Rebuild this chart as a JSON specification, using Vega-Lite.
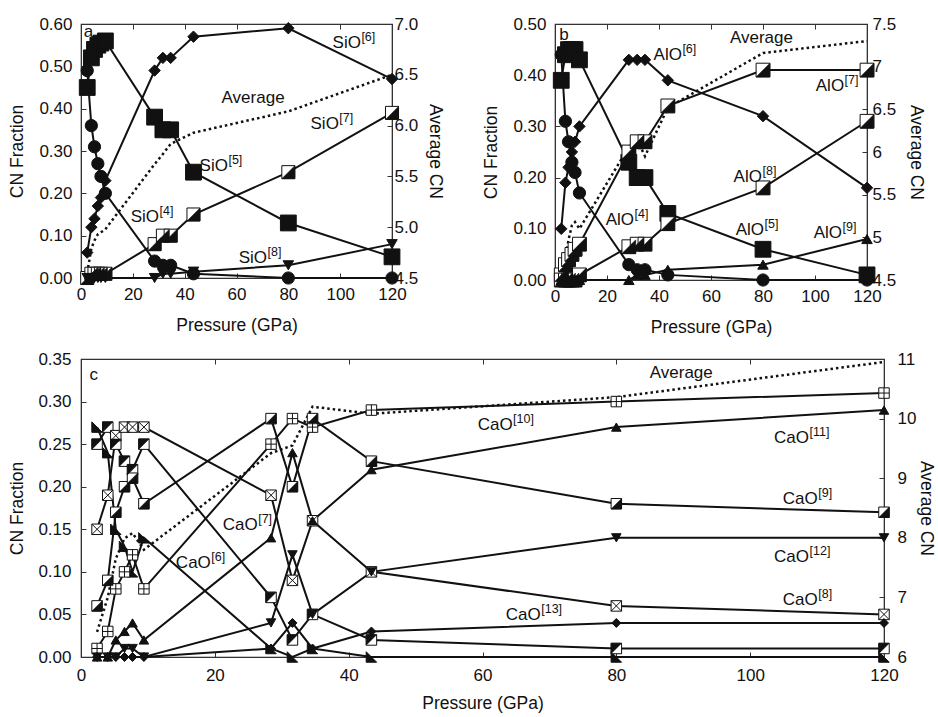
{
  "$schema": "https://vega.github.io/schema/vega-lite/v6.json",
  "padding": {"left": 8, "top": 14, "right": 0, "bottom": 0},
  "background": "white",
  "spacing": 12,
  "config": {
    "font": "Liberation Sans",
    "view": {"stroke": "#222", "strokeWidth": 1.2},
    "axis": {
      "labelFont": "Liberation Sans", "titleFont": "Liberation Sans",
      "labelFontSize": 17, "titleFontSize": 17.5, "titleFontWeight": "normal",
      "labelColor": "#111", "titleColor": "#111", "domainColor": "#333", "tickColor": "#333",
      "grid": false, "tickSize": -5, "labelFlush": false, "labelOverlap": false
    },
    "text": {"font": "Liberation Sans", "color": "#111"}
  },
  "datasets": {
    "a_frac": [
      {"s":"SiO4","p":2.4,"f":0.49},{"s":"SiO4","p":4,"f":0.36},{"s":"SiO4","p":5.2,"f":0.31},{"s":"SiO4","p":6.5,"f":0.27},{"s":"SiO4","p":7.7,"f":0.24},{"s":"SiO4","p":9.4,"f":0.2},{"s":"SiO4","p":28.4,"f":0.04},{"s":"SiO4","p":31.6,"f":0.03},{"s":"SiO4","p":34.6,"f":0.03},{"s":"SiO4","p":43.4,"f":0.01},{"s":"SiO4","p":80,"f":0},{"s":"SiO4","p":120,"f":0},
      {"s":"SiO5","p":2.4,"f":0.45},{"s":"SiO5","p":4,"f":0.52},{"s":"SiO5","p":5.2,"f":0.54},{"s":"SiO5","p":6.5,"f":0.55},{"s":"SiO5","p":7.7,"f":0.555},{"s":"SiO5","p":9.4,"f":0.56},{"s":"SiO5","p":28.4,"f":0.38},{"s":"SiO5","p":31.6,"f":0.35},{"s":"SiO5","p":34.6,"f":0.35},{"s":"SiO5","p":43.4,"f":0.25},{"s":"SiO5","p":80,"f":0.13},{"s":"SiO5","p":120,"f":0.05},
      {"s":"SiO6","p":2.4,"f":0.06},{"s":"SiO6","p":4,"f":0.12},{"s":"SiO6","p":5.2,"f":0.14},{"s":"SiO6","p":6.5,"f":0.17},{"s":"SiO6","p":7.7,"f":0.19},{"s":"SiO6","p":9.4,"f":0.23},{"s":"SiO6","p":28.4,"f":0.49},{"s":"SiO6","p":31.6,"f":0.52},{"s":"SiO6","p":34.6,"f":0.52},{"s":"SiO6","p":43.4,"f":0.57},{"s":"SiO6","p":80,"f":0.59},{"s":"SiO6","p":120,"f":0.47},
      {"s":"SiO7","p":2.4,"f":0},{"s":"SiO7","p":4,"f":0.01},{"s":"SiO7","p":5.2,"f":0.01},{"s":"SiO7","p":6.5,"f":0.01},{"s":"SiO7","p":7.7,"f":0.01},{"s":"SiO7","p":9.4,"f":0.01},{"s":"SiO7","p":28.4,"f":0.08},{"s":"SiO7","p":31.6,"f":0.1},{"s":"SiO7","p":34.6,"f":0.1},{"s":"SiO7","p":43.4,"f":0.15},{"s":"SiO7","p":80,"f":0.25},{"s":"SiO7","p":120,"f":0.39},
      {"s":"SiO8","p":2.4,"f":0},{"s":"SiO8","p":4,"f":0},{"s":"SiO8","p":5.2,"f":0},{"s":"SiO8","p":6.5,"f":0},{"s":"SiO8","p":7.7,"f":0},{"s":"SiO8","p":9.4,"f":0},{"s":"SiO8","p":28.4,"f":0},{"s":"SiO8","p":31.6,"f":0.01},{"s":"SiO8","p":34.6,"f":0.01},{"s":"SiO8","p":43.4,"f":0.015},{"s":"SiO8","p":80,"f":0.03},{"s":"SiO8","p":120,"f":0.08}
    ],
    "a_avg": [
      {"p":2.4,"v":4.55},{"p":4,"v":4.79},{"p":5.2,"v":4.87},{"p":6.5,"v":4.93},{"p":7.7,"v":4.95},{"p":9.4,"v":4.98},{"p":28.4,"v":5.62},{"p":31.6,"v":5.72},{"p":34.6,"v":5.82},{"p":43.4,"v":5.93},{"p":80,"v":6.14},{"p":120,"v":6.5}
    ],
    "a_sup": [
      {"p":108,"f":0.555,"t":"SiO","sup":"[6]"},
      {"p":99.5,"f":0.364,"t":"SiO","sup":"[7]"},
      {"p":56.7,"f":0.265,"t":"SiO","sup":"[5]"},
      {"p":30.1,"f":0.144,"t":"SiO","sup":"[4]"},
      {"p":71.8,"f":0.047,"t":"SiO","sup":"[8]"}
    ],
    "a_txt": [
      {"p":2.9,"f":0.58,"t":"a"},
      {"p":66.4,"f":0.425,"t":"Average"}
    ],
    "b_frac": [
      {"s":"AlO4","p":2.4,"f":0.44},{"s":"AlO4","p":4,"f":0.31},{"s":"AlO4","p":5.2,"f":0.27},{"s":"AlO4","p":6.5,"f":0.23},{"s":"AlO4","p":7.7,"f":0.21},{"s":"AlO4","p":9.4,"f":0.17},{"s":"AlO4","p":28.4,"f":0.03},{"s":"AlO4","p":31.6,"f":0.02},{"s":"AlO4","p":34.6,"f":0.02},{"s":"AlO4","p":43.4,"f":0.01},{"s":"AlO4","p":80,"f":0},{"s":"AlO4","p":120,"f":0},
      {"s":"AlO5","p":2.4,"f":0.39},{"s":"AlO5","p":4,"f":0.44},{"s":"AlO5","p":5.2,"f":0.45},{"s":"AlO5","p":6.5,"f":0.45},{"s":"AlO5","p":7.7,"f":0.45},{"s":"AlO5","p":9.4,"f":0.43},{"s":"AlO5","p":28.4,"f":0.23},{"s":"AlO5","p":31.6,"f":0.2},{"s":"AlO5","p":34.6,"f":0.2},{"s":"AlO5","p":43.4,"f":0.13},{"s":"AlO5","p":80,"f":0.06},{"s":"AlO5","p":120,"f":0.01},
      {"s":"AlO6","p":2.4,"f":0.1},{"s":"AlO6","p":4,"f":0.19},{"s":"AlO6","p":5.2,"f":0.22},{"s":"AlO6","p":6.5,"f":0.25},{"s":"AlO6","p":7.7,"f":0.27},{"s":"AlO6","p":9.4,"f":0.3},{"s":"AlO6","p":28.4,"f":0.43},{"s":"AlO6","p":31.6,"f":0.43},{"s":"AlO6","p":34.6,"f":0.43},{"s":"AlO6","p":43.4,"f":0.39},{"s":"AlO6","p":80,"f":0.32},{"s":"AlO6","p":120,"f":0.18},
      {"s":"AlO7","p":2.4,"f":0.01},{"s":"AlO7","p":4,"f":0.03},{"s":"AlO7","p":5.2,"f":0.04},{"s":"AlO7","p":6.5,"f":0.05},{"s":"AlO7","p":7.7,"f":0.06},{"s":"AlO7","p":9.4,"f":0.07},{"s":"AlO7","p":28.4,"f":0.25},{"s":"AlO7","p":31.6,"f":0.27},{"s":"AlO7","p":34.6,"f":0.27},{"s":"AlO7","p":43.4,"f":0.34},{"s":"AlO7","p":80,"f":0.41},{"s":"AlO7","p":120,"f":0.41},
      {"s":"AlO8","p":2.4,"f":0},{"s":"AlO8","p":4,"f":0},{"s":"AlO8","p":5.2,"f":0},{"s":"AlO8","p":6.5,"f":0},{"s":"AlO8","p":7.7,"f":0},{"s":"AlO8","p":9.4,"f":0.01},{"s":"AlO8","p":28.4,"f":0.065},{"s":"AlO8","p":31.6,"f":0.07},{"s":"AlO8","p":34.6,"f":0.07},{"s":"AlO8","p":43.4,"f":0.11},{"s":"AlO8","p":80,"f":0.18},{"s":"AlO8","p":120,"f":0.31},
      {"s":"AlO9","p":2.4,"f":0},{"s":"AlO9","p":4,"f":0},{"s":"AlO9","p":5.2,"f":0},{"s":"AlO9","p":6.5,"f":0},{"s":"AlO9","p":7.7,"f":0},{"s":"AlO9","p":9.4,"f":0},{"s":"AlO9","p":28.4,"f":0},{"s":"AlO9","p":31.6,"f":0.01},{"s":"AlO9","p":34.6,"f":0.01},{"s":"AlO9","p":43.4,"f":0.02},{"s":"AlO9","p":80,"f":0.03},{"s":"AlO9","p":120,"f":0.08}
    ],
    "b_avg": [
      {"p":2.4,"v":4.55},{"p":4,"v":4.77},{"p":5.2,"v":4.97},{"p":6.5,"v":5.14},{"p":7.7,"v":5.18},{"p":9.4,"v":5.1},{"p":28.4,"v":6.06},{"p":31.6,"v":6.14},{"p":34.6,"v":5.95},{"p":43.4,"v":6.52},{"p":80,"v":7.16},{"p":120,"v":7.3}
    ],
    "b_sup": [
      {"p":48.8,"f":0.44,"t":"AlO","sup":"[6]"},
      {"p":30.4,"f":0.117,"t":"AlO","sup":"[4]"},
      {"p":111.2,"f":0.379,"t":"AlO","sup":"[7]"},
      {"p":79.6,"f":0.202,"t":"AlO","sup":"[8]"},
      {"p":80.4,"f":0.098,"t":"AlO","sup":"[5]"},
      {"p":110.4,"f":0.092,"t":"AlO","sup":"[9]"}
    ],
    "b_txt": [
      {"p":3.5,"f":0.479,"t":"b"},
      {"p":79.4,"f":0.473,"t":"Average"}
    ],
    "c_frac": [
      {"s":"c6","p":2.4,"f":0.27},{"s":"c6","p":4,"f":0.24},{"s":"c6","p":5.2,"f":0.15},{"s":"c6","p":6.5,"f":0.13},{"s":"c6","p":7.7,"f":0.1},{"s":"c6","p":9.4,"f":0.14},{"s":"c6","p":28.4,"f":0.01},{"s":"c6","p":31.6,"f":0},{"s":"c6","p":34.6,"f":0.01},{"s":"c6","p":43.4,"f":0},{"s":"c6","p":80,"f":0},{"s":"c6","p":120,"f":0},
      {"s":"c7","p":2.4,"f":0.25},{"s":"c7","p":4,"f":0.27},{"s":"c7","p":5.2,"f":0.25},{"s":"c7","p":6.5,"f":0.23},{"s":"c7","p":7.7,"f":0.22},{"s":"c7","p":9.4,"f":0.25},{"s":"c7","p":28.4,"f":0.07},{"s":"c7","p":31.6,"f":0.02},{"s":"c7","p":34.6,"f":0.05},{"s":"c7","p":43.4,"f":0.02},{"s":"c7","p":80,"f":0.01},{"s":"c7","p":120,"f":0.01},
      {"s":"c8","p":2.4,"f":0.15},{"s":"c8","p":4,"f":0.19},{"s":"c8","p":5.2,"f":0.26},{"s":"c8","p":6.5,"f":0.27},{"s":"c8","p":7.7,"f":0.27},{"s":"c8","p":9.4,"f":0.27},{"s":"c8","p":28.4,"f":0.19},{"s":"c8","p":31.6,"f":0.09},{"s":"c8","p":34.6,"f":0.16},{"s":"c8","p":43.4,"f":0.1},{"s":"c8","p":80,"f":0.06},{"s":"c8","p":120,"f":0.05},
      {"s":"c9","p":2.4,"f":0.06},{"s":"c9","p":4,"f":0.09},{"s":"c9","p":5.2,"f":0.17},{"s":"c9","p":6.5,"f":0.2},{"s":"c9","p":7.7,"f":0.21},{"s":"c9","p":9.4,"f":0.18},{"s":"c9","p":28.4,"f":0.28},{"s":"c9","p":31.6,"f":0.2},{"s":"c9","p":34.6,"f":0.28},{"s":"c9","p":43.4,"f":0.23},{"s":"c9","p":80,"f":0.18},{"s":"c9","p":120,"f":0.17},
      {"s":"c10","p":2.4,"f":0.01},{"s":"c10","p":4,"f":0.03},{"s":"c10","p":5.2,"f":0.08},{"s":"c10","p":6.5,"f":0.1},{"s":"c10","p":7.7,"f":0.12},{"s":"c10","p":9.4,"f":0.08},{"s":"c10","p":28.4,"f":0.25},{"s":"c10","p":31.6,"f":0.28},{"s":"c10","p":34.6,"f":0.27},{"s":"c10","p":43.4,"f":0.29},{"s":"c10","p":80,"f":0.3},{"s":"c10","p":120,"f":0.31},
      {"s":"c11","p":2.4,"f":0},{"s":"c11","p":4,"f":0},{"s":"c11","p":5.2,"f":0.02},{"s":"c11","p":6.5,"f":0.03},{"s":"c11","p":7.7,"f":0.04},{"s":"c11","p":9.4,"f":0.02},{"s":"c11","p":28.4,"f":0.14},{"s":"c11","p":31.6,"f":0.24},{"s":"c11","p":34.6,"f":0.16},{"s":"c11","p":43.4,"f":0.22},{"s":"c11","p":80,"f":0.27},{"s":"c11","p":120,"f":0.29},
      {"s":"c12","p":2.4,"f":0},{"s":"c12","p":4,"f":0},{"s":"c12","p":5.2,"f":0},{"s":"c12","p":6.5,"f":0.01},{"s":"c12","p":7.7,"f":0.01},{"s":"c12","p":9.4,"f":0},{"s":"c12","p":28.4,"f":0.04},{"s":"c12","p":31.6,"f":0.12},{"s":"c12","p":34.6,"f":0.05},{"s":"c12","p":43.4,"f":0.1},{"s":"c12","p":80,"f":0.14},{"s":"c12","p":120,"f":0.14},
      {"s":"c13","p":2.4,"f":0},{"s":"c13","p":4,"f":0},{"s":"c13","p":5.2,"f":0},{"s":"c13","p":6.5,"f":0},{"s":"c13","p":7.7,"f":0},{"s":"c13","p":9.4,"f":0},{"s":"c13","p":28.4,"f":0.01},{"s":"c13","p":31.6,"f":0.04},{"s":"c13","p":34.6,"f":0.01},{"s":"c13","p":43.4,"f":0.03},{"s":"c13","p":80,"f":0.04},{"s":"c13","p":120,"f":0.04}
    ],
    "c_avg": [
      {"p":2.4,"v":6.42},{"p":4,"v":7.0},{"p":5.2,"v":7.65},{"p":6.5,"v":7.99},{"p":7.7,"v":8.08},{"p":9.4,"v":7.8},{"p":28.4,"v":9.42},{"p":31.6,"v":9.55},{"p":34.6,"v":10.2},{"p":43.4,"v":10.08},{"p":80,"v":10.36},{"p":120,"v":10.95}
    ],
    "c_sup": [
      {"p":64.5,"f":0.272,"t":"CaO","sup":"[10]"},
      {"p":108.8,"f":0.257,"t":"CaO","sup":"[11]"},
      {"p":110.1,"f":0.185,"t":"CaO","sup":"[9]"},
      {"p":108.8,"f":0.118,"t":"CaO","sup":"[12]"},
      {"p":110.1,"f":0.067,"t":"CaO","sup":"[8]"},
      {"p":68.7,"f":0.049,"t":"CaO","sup":"[13]"},
      {"p":26.4,"f":0.155,"t":"CaO","sup":"[7]"},
      {"p":19.4,"f":0.11,"t":"CaO","sup":"[6]"}
    ],
    "c_txt": [
      {"p":1.9,"f":0.331,"t":"c"},
      {"p":89.7,"f":0.333,"t":"Average"}
    ]
  },
  "vconcat": [
    {
      "hconcat": [
        {
          "width": 311, "height": 254,
          "resolve": {"scale": {"y": "independent"}, "axis": {"x": "independent", "y": "independent"}},
          "layer": [
            {
              "data": {"name": "a_avg"},
              "mark": {"type": "line", "color": "#111", "strokeWidth": 2.5, "strokeDash": [2.5, 3]},
              "encoding": {
                "x": {"field": "p", "type": "quantitative", "scale": {"domain": [0, 120]}, "axis": {"orient": "top", "values": [0,20,40,60,80,100,120], "labels": false, "title": null}},
                "y": {"field": "v", "type": "quantitative", "scale": {"domain": [4.5, 7]}, "axis": {"orient": "right", "values": [4.5,5,5.5,6,6.5,7], "format": ".1f", "labelPadding": 7, "titlePadding": 8, "title": "Average CN"}}
              }
            },
            {
              "encoding": {
                "x": {"field": "p", "type": "quantitative", "scale": {"domain": [0, 120]}, "axis": {"orient": "bottom", "values": [0,20,40,60,80,100,120], "labelPadding": 13, "titlePadding": 14, "title": "Pressure (GPa)"}},
                "y": {"field": "f", "type": "quantitative", "scale": {"domain": [0, 0.6]}, "axis": {"orient": "left", "values": [0,0.1,0.2,0.3,0.4,0.5,0.6], "format": ".2f", "labelPadding": 14, "titlePadding": 12, "title": "CN Fraction"}}
              },
              "layer": [
                {"data": {"name": "a_frac"}, "mark": {"type": "line", "color": "#111", "strokeWidth": 2}, "encoding": {"detail": {"field": "s"}}},
                {"data": {"name": "a_frac"}, "mark": {"type": "point", "filled": true, "stroke": "#111", "strokeWidth": 1, "opacity": 1},
                 "encoding": {
                   "shape": {"field": "s", "type": "nominal", "scale": {"domain": ["SiO4","SiO5","SiO6","SiO7","SiO8","AlO4","AlO5","AlO6","AlO7","AlO8","AlO9","c6","c7","c8","c9","c10","c11","c12","c13"], "range": ["circle","square","diamond","square","triangle-down","circle","square","diamond","square","square","triangle-up","M-1,-1L-1,1L1,1Z","square","square","square","square","triangle-up","triangle-down","diamond"]}, "legend": null},
                   "fill": {"field": "s", "type": "nominal", "scale": {"domain": ["SiO4","SiO5","SiO6","SiO7","SiO8","AlO4","AlO5","AlO6","AlO7","AlO8","AlO9","c6","c7","c8","c9","c10","c11","c12","c13"], "range": ["#111","#111","#111","white","#111","#111","#111","#111","white","white","#111","#111","white","white","white","white","#111","#111","#111"]}, "legend": null},
                   "size": {"field": "s", "type": "nominal", "scale": {"type": "ordinal", "domain": ["SiO4","SiO5","SiO6","SiO7","SiO8","AlO4","AlO5","AlO6","AlO7","AlO8","AlO9","c6","c7","c8","c9","c10","c11","c12","c13"], "range": [150,250,130,170,110,150,250,130,190,190,110,110,110,110,110,110,90,90,80]}, "legend": null}
                 }},
                {"data": {"name": "a_frac"}, "transform": [{"filter": "datum.s === 'SiO7'"}], "mark": {"type": "point", "filled": true, "fill": "#111", "stroke": "#111", "strokeWidth": 0.5, "opacity": 1, "shape": "M1,-1L1,1L-1,1Z", "size": 170}},
                {"data": {"name": "a_sup"}, "mark": {"type": "text", "align": "right", "baseline": "middle", "fontSize": 17}, "encoding": {"text": {"field": "t"}}},
                {"data": {"name": "a_sup"}, "mark": {"type": "text", "align": "left", "baseline": "middle", "fontSize": 12.5, "dy": -6, "dx": 0.5}, "encoding": {"text": {"field": "sup"}}},
                {"data": {"name": "a_txt"}, "mark": {"type": "text", "align": "center", "baseline": "middle", "fontSize": 17}, "encoding": {"text": {"field": "t"}}}
              ]
            }
          ]
        },
        {
          "width": 312, "height": 256,
          "resolve": {"scale": {"y": "independent"}, "axis": {"x": "independent", "y": "independent"}},
          "layer": [
            {
              "data": {"name": "b_avg"},
              "mark": {"type": "line", "color": "#111", "strokeWidth": 2.5, "strokeDash": [2.5, 3]},
              "encoding": {
                "x": {"field": "p", "type": "quantitative", "scale": {"domain": [0, 120]}, "axis": {"orient": "top", "values": [0,20,40,60,80,100,120], "labels": false, "title": null}},
                "y": {"field": "v", "type": "quantitative", "scale": {"domain": [4.5, 7.5]}, "axis": {"orient": "right", "values": [4.5,5,5.5,6,6.5,7,7.5], "format": "~g", "labelPadding": 10, "titlePadding": 11, "title": "Average CN"}}
              }
            },
            {
              "encoding": {
                "x": {"field": "p", "type": "quantitative", "scale": {"domain": [0, 120]}, "axis": {"orient": "bottom", "values": [0,20,40,60,80,100,120], "labelPadding": 13, "titlePadding": 14, "title": "Pressure (GPa)"}},
                "y": {"field": "f", "type": "quantitative", "scale": {"domain": [0, 0.5]}, "axis": {"orient": "left", "values": [0,0.1,0.2,0.3,0.4,0.5], "format": ".2f", "labelPadding": 14, "titlePadding": 12, "title": "CN Fraction"}}
              },
              "layer": [
                {"data": {"name": "b_frac"}, "mark": {"type": "line", "color": "#111", "strokeWidth": 2}, "encoding": {"detail": {"field": "s"}}},
                {"data": {"name": "b_frac"}, "mark": {"type": "point", "filled": true, "stroke": "#111", "strokeWidth": 1, "opacity": 1},
                 "encoding": {
                   "shape": {"field": "s", "type": "nominal", "scale": {"domain": ["SiO4","SiO5","SiO6","SiO7","SiO8","AlO4","AlO5","AlO6","AlO7","AlO8","AlO9","c6","c7","c8","c9","c10","c11","c12","c13"], "range": ["circle","square","diamond","square","triangle-down","circle","square","diamond","square","square","triangle-up","M-1,-1L-1,1L1,1Z","square","square","square","square","triangle-up","triangle-down","diamond"]}, "legend": null},
                   "fill": {"field": "s", "type": "nominal", "scale": {"domain": ["SiO4","SiO5","SiO6","SiO7","SiO8","AlO4","AlO5","AlO6","AlO7","AlO8","AlO9","c6","c7","c8","c9","c10","c11","c12","c13"], "range": ["#111","#111","#111","white","#111","#111","#111","#111","white","white","#111","#111","white","white","white","white","#111","#111","#111"]}, "legend": null},
                   "size": {"field": "s", "type": "nominal", "scale": {"type": "ordinal", "domain": ["SiO4","SiO5","SiO6","SiO7","SiO8","AlO4","AlO5","AlO6","AlO7","AlO8","AlO9","c6","c7","c8","c9","c10","c11","c12","c13"], "range": [150,250,130,170,110,150,250,130,190,190,110,110,110,110,110,110,90,90,80]}, "legend": null}
                 }},
                {"data": {"name": "b_frac"}, "transform": [{"filter": "datum.s === 'AlO7' || datum.s === 'AlO8'"}], "mark": {"type": "point", "filled": true, "fill": "#111", "stroke": "#111", "strokeWidth": 0.5, "opacity": 1, "shape": "M1,-1L1,1L-1,1Z", "size": 190}},
                {"data": {"name": "b_sup"}, "mark": {"type": "text", "align": "right", "baseline": "middle", "fontSize": 17}, "encoding": {"text": {"field": "t"}}},
                {"data": {"name": "b_sup"}, "mark": {"type": "text", "align": "left", "baseline": "middle", "fontSize": 12.5, "dy": -6, "dx": 0.5}, "encoding": {"text": {"field": "sup"}}},
                {"data": {"name": "b_txt"}, "mark": {"type": "text", "align": "center", "baseline": "middle", "fontSize": 17}, "encoding": {"text": {"field": "t"}}}
              ]
            }
          ]
        }
      ],
      "spacing": 163,
      "bounds": "flush"
    },
    {
      "width": 803, "height": 298,
      "resolve": {"scale": {"y": "independent"}, "axis": {"x": "independent", "y": "independent"}},
      "layer": [
        {
          "data": {"name": "c_avg"},
          "mark": {"type": "line", "color": "#111", "strokeWidth": 2.5, "strokeDash": [2.5, 3]},
          "encoding": {
            "x": {"field": "p", "type": "quantitative", "scale": {"domain": [0, 120]}, "axis": {"orient": "top", "values": [0,20,40,60,80,100,120], "labels": false, "title": null}},
            "y": {"field": "v", "type": "quantitative", "scale": {"domain": [6, 11]}, "axis": {"orient": "right", "values": [6,7,8,9,10,11], "format": "d", "labelPadding": 18, "titlePadding": 1, "title": "Average CN"}}
          }
        },
        {
          "encoding": {
            "x": {"field": "p", "type": "quantitative", "scale": {"domain": [0, 120]}, "axis": {"orient": "bottom", "values": [0,20,40,60,80,100,120], "labelPadding": 15, "titlePadding": 11, "title": "Pressure (GPa)"}},
            "y": {"field": "f", "type": "quantitative", "scale": {"domain": [0, 0.35]}, "axis": {"orient": "left", "values": [0,0.05,0.1,0.15,0.2,0.25,0.3,0.35], "format": ".2f", "labelPadding": 15, "titlePadding": 11, "title": "CN Fraction"}}
          },
          "layer": [
            {"data": {"name": "c_frac"}, "mark": {"type": "line", "color": "#111", "strokeWidth": 2}, "encoding": {"detail": {"field": "s"}}},
            {"data": {"name": "c_frac"}, "mark": {"type": "point", "filled": true, "stroke": "#111", "strokeWidth": 1, "opacity": 1},
             "encoding": {
               "shape": {"field": "s", "type": "nominal", "scale": {"domain": ["SiO4","SiO5","SiO6","SiO7","SiO8","AlO4","AlO5","AlO6","AlO7","AlO8","AlO9","c6","c7","c8","c9","c10","c11","c12","c13"], "range": ["circle","square","diamond","square","triangle-down","circle","square","diamond","square","square","triangle-up","M-1,-1L-1,1L1,1Z","square","square","square","square","triangle-up","triangle-down","diamond"]}, "legend": null},
               "fill": {"field": "s", "type": "nominal", "scale": {"domain": ["SiO4","SiO5","SiO6","SiO7","SiO8","AlO4","AlO5","AlO6","AlO7","AlO8","AlO9","c6","c7","c8","c9","c10","c11","c12","c13"], "range": ["#111","#111","#111","white","#111","#111","#111","#111","white","white","#111","#111","white","white","white","white","#111","#111","#111"]}, "legend": null},
               "size": {"field": "s", "type": "nominal", "scale": {"type": "ordinal", "domain": ["SiO4","SiO5","SiO6","SiO7","SiO8","AlO4","AlO5","AlO6","AlO7","AlO8","AlO9","c6","c7","c8","c9","c10","c11","c12","c13"], "range": [150,250,130,170,110,150,250,130,190,190,110,110,110,110,110,110,90,90,80]}, "legend": null}
             }},
            {"data": {"name": "c_frac"}, "transform": [{"filter": "datum.s === 'c9'"}], "mark": {"type": "point", "filled": true, "fill": "#111", "stroke": "#111", "strokeWidth": 0.5, "opacity": 1, "shape": "M1,-1L1,1L-1,1Z", "size": 110}},
            {"data": {"name": "c_frac"}, "transform": [{"filter": "datum.s === 'c7'"}], "mark": {"type": "point", "filled": true, "fill": "#111", "stroke": "#111", "strokeWidth": 0.5, "opacity": 1, "shape": "M-1,-1L1,-1L-1,1Z", "size": 110}},
            {"data": {"name": "c_frac"}, "transform": [{"filter": "datum.s === 'c8'"}], "mark": {"type": "point", "filled": false, "stroke": "#111", "strokeWidth": 1, "opacity": 1, "shape": "M-1,-1L1,1M1,-1L-1,1", "size": 110}},
            {"data": {"name": "c_frac"}, "transform": [{"filter": "datum.s === 'c10'"}], "mark": {"type": "point", "filled": false, "stroke": "#111", "strokeWidth": 1, "opacity": 1, "shape": "M0,-1L0,1M-1,0L1,0", "size": 110}},
            {"data": {"name": "c_sup"}, "mark": {"type": "text", "align": "right", "baseline": "middle", "fontSize": 17}, "encoding": {"text": {"field": "t"}}},
            {"data": {"name": "c_sup"}, "mark": {"type": "text", "align": "left", "baseline": "middle", "fontSize": 12.5, "dy": -6, "dx": 0.5}, "encoding": {"text": {"field": "sup"}}},
            {"data": {"name": "c_txt"}, "mark": {"type": "text", "align": "center", "baseline": "middle", "fontSize": 17}, "encoding": {"text": {"field": "t"}}}
          ]
        }
      ]
    }
  ]
}
